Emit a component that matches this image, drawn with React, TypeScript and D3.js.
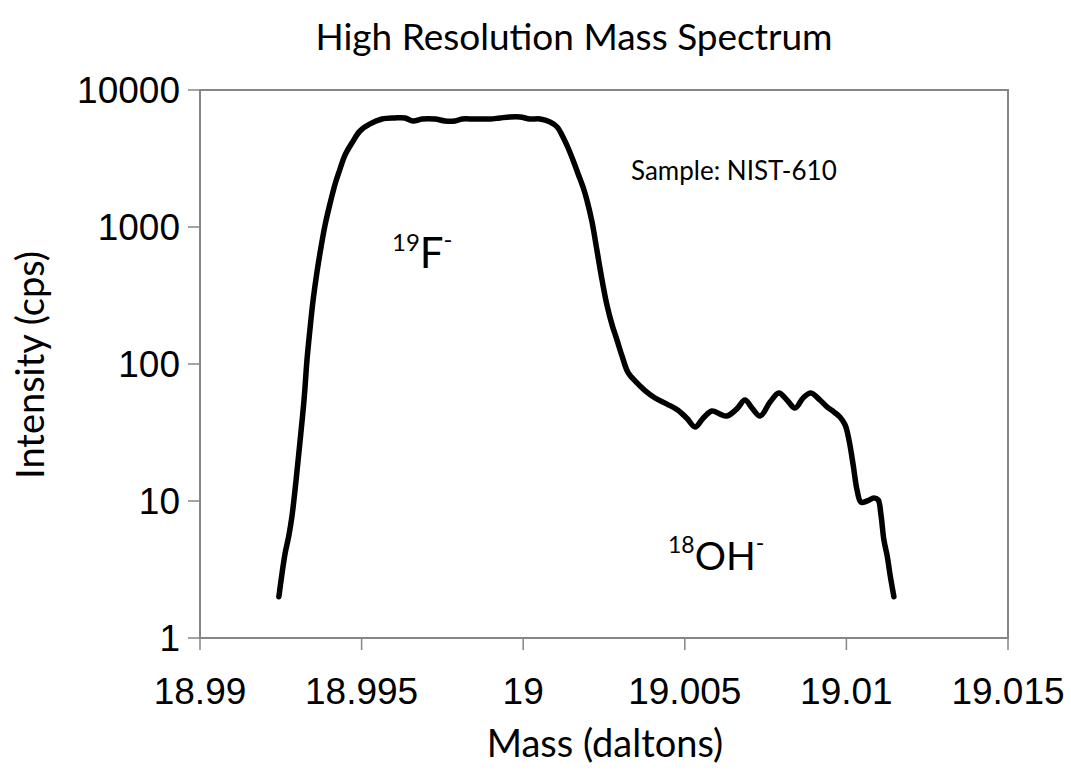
import React from "react";
import * as d3 from "d3";

// Mass axis values (daltons)
const masses = [
  18.99244, 18.99263, 18.99275, 18.99285, 18.99297, 18.99309, 18.99322, 18.99331,
  18.9934, 18.9935, 18.99362, 18.99374, 18.99387, 18.99402, 18.99418, 18.9943,
  18.99449, 18.9947, 18.99495, 18.99526, 18.99563, 18.99603, 18.99634, 18.99659,
  18.99687, 18.99727, 18.99758, 18.99789, 18.99811, 18.99851, 18.99897, 18.99928,
  18.99959, 18.9999, 19.00021, 19.00052, 19.00083, 19.00105, 19.00123, 19.00139,
  19.00154, 19.0017, 19.00185, 19.00197, 19.00213, 19.00228, 19.00244, 19.00259,
  19.00275, 19.0029, 19.00306, 19.00324, 19.00349, 19.00377, 19.00408, 19.00445,
  19.00479, 19.00507, 19.00532, 19.00556, 19.00584, 19.00609, 19.0063, 19.00661,
  19.00686, 19.00708, 19.00733, 19.00764, 19.00791, 19.00816, 19.00841, 19.00866,
  19.0089, 19.00918, 19.0094, 19.00962, 19.0098, 19.00996, 19.01008, 19.01021,
  19.01033, 19.01045, 19.01064, 19.01085, 19.01098, 19.01107, 19.01116, 19.01126,
  19.01135, 19.01147,
];

// Measured intensity (counts per second)
const intensities = [
  2, 4.1, 5.6, 7.9, 14, 26.5, 55, 107,
  177, 293, 470, 703, 1035, 1472, 2061, 2518,
  3357, 4104, 5023, 5652, 6142, 6250, 6250, 5943,
  6142, 6142, 5943, 5943, 6142, 6142, 6142, 6250,
  6353, 6353, 6142, 6142, 5840, 5370, 4540, 3774,
  3083, 2438, 1959, 1575, 1087, 679, 410, 270,
  193, 150, 114, 87, 74, 64, 56.5, 51,
  46, 40, 34.7, 40, 45.4, 43, 41.7, 47,
  54.6, 47.7, 41.7, 52.8, 61.4, 54.6, 47.7, 56.5,
  61.4, 54.6, 48.6, 44.6, 41, 35.9, 27.9, 18.3,
  12, 9.8, 10, 10.5, 10.2, 7.9, 5.2, 4.0,
  2.9, 2,
];

const xTicks = [18.99, 18.995, 19, 19.005, 19.01, 19.015];
const yTicks = [1, 10, 100, 1000, 10000];

const W = 1071;
const H = 771;
const plot = { left: 200, right: 1008, top: 90, bottom: 638 };

const labelFont = "Lato, 'Open Sans', sans-serif";
const tickFont = "'Liberation Sans', Arial, sans-serif";

export default function App() {
  const x = d3.scaleLinear().domain([18.99, 19.015]).range([plot.left, plot.right]);
  const y = d3.scaleLog().domain([1, 10000]).range([plot.bottom, plot.top]);

  const pts: [number, number][] = masses.map((m, i) => [m, intensities[i]]);
  const line = d3
    .line<[number, number]>()
    .x((d) => x(d[0]))
    .y((d) => y(d[1]))
    .curve(d3.curveCatmullRom.alpha(0.5));

  const axisColor = "#868686";

  return (
    <svg
      width={W}
      height={H}
      style={{ position: "absolute", left: 0, top: 0, background: "#fff" }}
    >
      <rect x={0} y={0} width={W} height={H} fill="#fff" />

      {/* plot frame */}
      <rect
        x={plot.left}
        y={plot.top}
        width={plot.right - plot.left}
        height={plot.bottom - plot.top}
        fill="none"
        stroke={axisColor}
        strokeWidth={2}
      />

      {/* x ticks */}
      {xTicks.map((t) => (
        <g key={"x" + t}>
          <line
            x1={x(t)}
            x2={x(t)}
            y1={plot.bottom}
            y2={plot.bottom + 12}
            stroke={axisColor}
            strokeWidth={1.5}
          />
          <text
            x={x(t)}
            y={704}
            textAnchor="middle"
            fontFamily={tickFont}
            fontSize={37}
            fill="#000"
          >
            {d3.format("")(t)}
          </text>
        </g>
      ))}

      {/* y ticks */}
      {yTicks.map((t) => (
        <g key={"y" + t}>
          <line
            x1={plot.left - 12}
            x2={plot.left}
            y1={y(t)}
            y2={y(t)}
            stroke={axisColor}
            strokeWidth={1.5}
          />
          <text
            x={180}
            y={y(t) + 13}
            textAnchor="end"
            fontFamily={tickFont}
            fontSize={37}
            fill="#000"
          >
            {t}
          </text>
        </g>
      ))}

      {/* spectrum trace */}
      <path
        d={line(pts) ?? ""}
        fill="none"
        stroke="#000"
        strokeWidth={5.5}
        strokeLinejoin="round"
        strokeLinecap="round"
      />

      {/* title and axis titles */}
      <text x={574} y={50} textAnchor="middle" fontFamily={labelFont} fontSize={37} fill="#000">
        High Resolution Mass Spectrum
      </text>
      <text x={605} y={757} textAnchor="middle" fontFamily={labelFont} fontSize={38} fill="#000">
        Mass (daltons)
      </text>
      <text
        transform={`translate(44, 365) rotate(-90)`}
        textAnchor="middle"
        fontFamily={labelFont}
        fontSize={38}
        fill="#000"
      >
        Intensity (cps)
      </text>

      {/* annotations */}
      <text x={631} y={180} fontFamily={labelFont} fontSize={26} fill="#000">
        Sample: NIST-610
      </text>
      <text x={392} y={268} fontFamily={labelFont} fill="#000">
        <tspan fontSize={24} dy={-17}>19</tspan>
        <tspan fontSize={42} dy={17}>F</tspan>
        <tspan fontSize={24} dy={-20}>-</tspan>
      </text>
      <text x={668} y={570} fontFamily={labelFont} fill="#000">
        <tspan fontSize={23} dy={-17}>18</tspan>
        <tspan fontSize={39} dy={17}>OH</tspan>
        <tspan fontSize={23} dy={-19}>-</tspan>
      </text>
    </svg>
  );
}
